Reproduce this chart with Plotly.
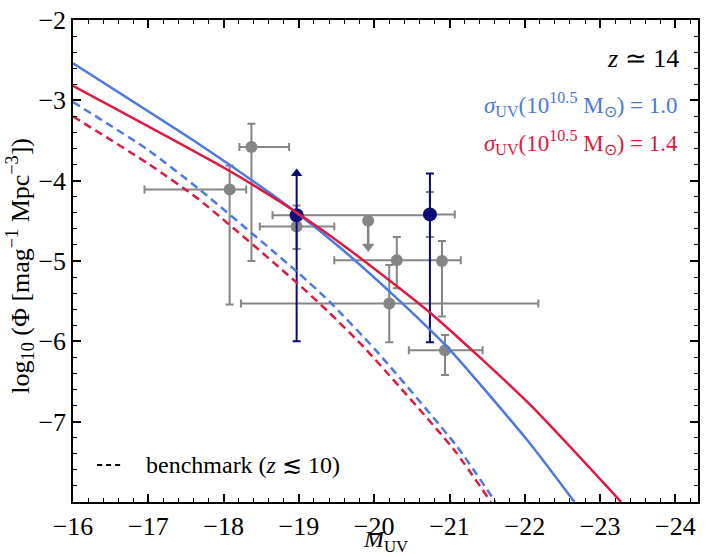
import plotly.graph_objects as go

# ---- model curves ----
blue_x = [-16.00, -17.68, -18.61, -18.96, -19.58, -20.33, -20.99, -22.05, -22.66]
blue_y = [-2.54, -3.55, -4.15, -4.39, -4.86, -5.49, -6.09, -7.25, -8.00]
red_x = [-16.00, -18.08, -18.96, -19.67, -20.75, -22.05, -23.28]
red_y = [-2.82, -3.88, -4.39, -4.86, -5.65, -6.77, -8.00]
blue_bench_x = [-16.00, -17.00, -17.68, -18.97, -19.40, -20.02, -21.10, -21.61]
blue_bench_y = [-3.02, -3.62, -4.11, -5.13, -5.50, -6.11, -7.31, -8.00]
red_bench_x = [-16.00, -17.00, -17.68, -18.96, -19.40, -19.89, -21.06, -21.55]
red_bench_y = [-3.20, -3.79, -4.24, -5.26, -5.64, -6.10, -7.35, -8.00]

# ---- gray data points ----
gray_x = [-18.08, -18.37, -18.97, -20.30, -20.90, -20.20, -20.94, -20.74]
gray_y = [-4.11, -3.58, -4.57, -4.99, -5.00, -5.53, -6.11, -4.42]
gray_xerr_p = [1.13, 0.16, 0.49, 0.83, 0.0, 1.97, 0.48, 0.0]
gray_xerr_m = [0.22, 0.50, 0.50, 0.85, 0.0, 1.98, 0.50, 0.0]
gray_yerr_p = [0.30, 0.29, 0.26, 0.29, 0.25, 0.48, 0.19, 0.28]
gray_yerr_m = [1.43, 1.42, 0.28, 0.35, 0.69, 0.48, 0.31, 0.28]

# gray upper limit
ul_x = [-19.92]
ul_y = [-4.50]
ul_to = [-4.87]

# ---- navy data points ----
navy_x = [-18.97, -20.74]
navy_y = [-4.43, -4.42]
navy_xerr_p = [0.32, 0.0]
navy_xerr_m = [1.77, 0.33]
navy_yerr_p = [0.0, 0.51]
navy_yerr_m = [1.57, 1.59]
# lower-limit arrow on the first navy point
ll_x = [-18.97]
ll_y = [-4.43]
ll_to = [-3.87]

# axis ticks
x_ticks = [-16, -17, -18, -19, -20, -21, -22, -23, -24]
y_ticks = [-2, -3, -4, -5, -6, -7]
x_range = [-16, -24.3]
y_range = [-8, -2]

# benchmark legend sample
bench_leg_x = [-16.32, -16.66]
bench_leg_y = [-7.54, -7.54]

BLUE = "#4a78e4"
RED = "#e0183e"
GRAY = "#858585"
NAVY = "#0b0b78"
FONT = "Liberation Serif"
SMOOTH = 0.6
TICKSIZE = 26

fig = go.Figure()

# gray points
fig.add_trace(go.Scatter(
    x=gray_x, y=gray_y, mode="markers",
    marker=dict(color=GRAY, size=12),
    error_x=dict(type="data", symmetric=False, array=gray_xerr_p, arrayminus=gray_xerr_m,
                 color=GRAY, thickness=2, width=4),
    error_y=dict(type="data", symmetric=False, array=gray_yerr_p, arrayminus=gray_yerr_m,
                 color=GRAY, thickness=2, width=4),
    showlegend=False))

# gray upper limit
for xv, yv, yt in zip(ul_x, ul_y, ul_to):
    fig.add_trace(go.Scatter(x=[xv, xv], y=[yv, yt + 0.05], mode="lines",
                             line=dict(color=GRAY, width=2.5), showlegend=False))
    fig.add_trace(go.Scatter(x=[xv], y=[yt + 0.05], mode="markers",
                             marker=dict(symbol="triangle-down", color=GRAY, size=11),
                             showlegend=False))
    fig.add_trace(go.Scatter(x=[xv], y=[yv], mode="markers",
                             marker=dict(color=GRAY, size=12), showlegend=False))

# navy lower-limit arrow
for xv, yv, yt in zip(ll_x, ll_y, ll_to):
    fig.add_trace(go.Scatter(x=[xv, xv], y=[yv, yt - 0.04], mode="lines",
                             line=dict(color=NAVY, width=2), showlegend=False))
    fig.add_trace(go.Scatter(x=[xv], y=[yt - 0.04], mode="markers",
                             marker=dict(symbol="triangle-up", color=NAVY, size=10),
                             showlegend=False))

# navy points (horizontal bars gray)
fig.add_trace(go.Scatter(
    x=navy_x, y=navy_y, mode="markers",
    marker=dict(color=NAVY, size=14),
    error_x=dict(type="data", symmetric=False, array=navy_xerr_p, arrayminus=navy_xerr_m,
                 color=GRAY, thickness=2, width=4),
    error_y=dict(type="data", symmetric=False, array=navy_yerr_p, arrayminus=navy_yerr_m,
                 color=NAVY, thickness=2, width=4),
    showlegend=False))

# curves
fig.add_trace(go.Scatter(x=blue_bench_x, y=blue_bench_y, mode="lines",
                         line=dict(color=BLUE, width=2.5, dash="8px,5px", shape="spline", smoothing=SMOOTH),
                         showlegend=False))
fig.add_trace(go.Scatter(x=red_bench_x, y=red_bench_y, mode="lines",
                         line=dict(color=RED, width=2.5, dash="8px,5px", shape="spline", smoothing=SMOOTH),
                         showlegend=False))
fig.add_trace(go.Scatter(x=blue_x, y=blue_y, mode="lines",
                         line=dict(color=BLUE, width=2.5, shape="spline", smoothing=SMOOTH),
                         showlegend=False))
fig.add_trace(go.Scatter(x=red_x, y=red_y, mode="lines",
                         line=dict(color=RED, width=2.5, shape="spline", smoothing=SMOOTH),
                         showlegend=False))

# benchmark legend sample
fig.add_trace(go.Scatter(x=bench_leg_x, y=bench_leg_y, mode="lines",
                         line=dict(color="black", width=2, dash="5px,4px"), showlegend=False))

# invisible trace to activate mirrored axes (for minor ticks on top/right)
fig.add_trace(go.Scatter(x=[x_range[0]], y=[y_range[0]], xaxis="x2", yaxis="y2", mode="markers",
                         marker=dict(opacity=0), hoverinfo="skip", showlegend=False))

minor = dict(ticks="inside", ticklen=4, tickwidth=1.2, tickcolor="black", dtick=0.2, showgrid=False)

fig.update_layout(
    xaxis=dict(range=x_range, tickmode="array", tickvals=x_ticks,
               showline=True, linecolor="black", linewidth=1.5, mirror="allticks",
               ticks="inside", ticklen=8, tickwidth=1.5, tickcolor="black",
               showgrid=False, zeroline=False, minor=minor),
    yaxis=dict(range=y_range, tickmode="array", tickvals=y_ticks,
               showline=True, linecolor="black", linewidth=1.5, mirror="allticks",
               ticks="inside", ticklen=8, tickwidth=1.5, tickcolor="black",
               showgrid=False, zeroline=False, minor=minor),
    xaxis2=dict(range=x_range, overlaying="x", side="top", anchor="y2", tickmode="array",
                tickvals=x_ticks, showticklabels=False, ticks="inside", ticklen=8, tickwidth=1.5,
                tickcolor="black", showgrid=False, zeroline=False, showline=False, minor=minor),
    yaxis2=dict(range=y_range, overlaying="y", side="right", anchor="x2", tickmode="array",
                tickvals=y_ticks, showticklabels=False, ticks="inside", ticklen=8, tickwidth=1.5,
                tickcolor="black", showgrid=False, zeroline=False, showline=False, minor=minor),
)
fig.update_layout(xaxis_tickfont=dict(family=FONT, size=TICKSIZE, color="black"),
                  yaxis_tickfont=dict(family=FONT, size=TICKSIZE, color="black"))

annotations = [
    dict(text="<i>z</i> ≃ 14", x=0.972, y=0.921, xref="paper", yref="paper",
         xanchor="right", yanchor="middle", showarrow=False,
         font=dict(family=FONT, size=26, color="black")),
    dict(text="<i>σ</i><sub>UV</sub>(10<sup>10.5</sup> M<sub>⊙</sub>) = 1.0", x=0.971, y=0.824,
         xref="paper", yref="paper", xanchor="right", yanchor="middle", showarrow=False,
         font=dict(family=FONT, size=23, color=BLUE)),
    dict(text="<i>σ</i><sub>UV</sub>(10<sup>10.5</sup> M<sub>⊙</sub>) = 1.4", x=0.971, y=0.745,
         xref="paper", yref="paper", xanchor="right", yanchor="middle", showarrow=False,
         font=dict(family=FONT, size=23, color=RED)),
    dict(text="benchmark (<i>z</i> ≲ 10)", x=-16.94, y=-7.54, xref="x", yref="y",
         xanchor="left", yanchor="middle", showarrow=False,
         font=dict(family=FONT, size=24, color="black")),
    dict(text="log<sub>10</sub> (Φ [mag<sup>−1</sup> Mpc<sup>−3</sup>])", x=-0.085, y=0.49,
         xref="paper", yref="paper", xanchor="center", yanchor="middle", textangle=-90,
         showarrow=False, font=dict(family=FONT, size=26, color="black")),
    dict(text="<i>M</i><sub>UV</sub>", x=0.5, y=-0.116, xref="paper", yref="paper",
         xanchor="center", yanchor="bottom", showarrow=False,
         font=dict(family=FONT, size=24, color="black")),
]

fig.update_layout(
    width=706, height=557,
    margin=dict(l=73, r=6, t=20, b=55),
    paper_bgcolor="white", plot_bgcolor="white",
    annotations=annotations,
    font=dict(family=FONT, size=TICKSIZE, color="black"),
)

fig.write_html("out.html")
